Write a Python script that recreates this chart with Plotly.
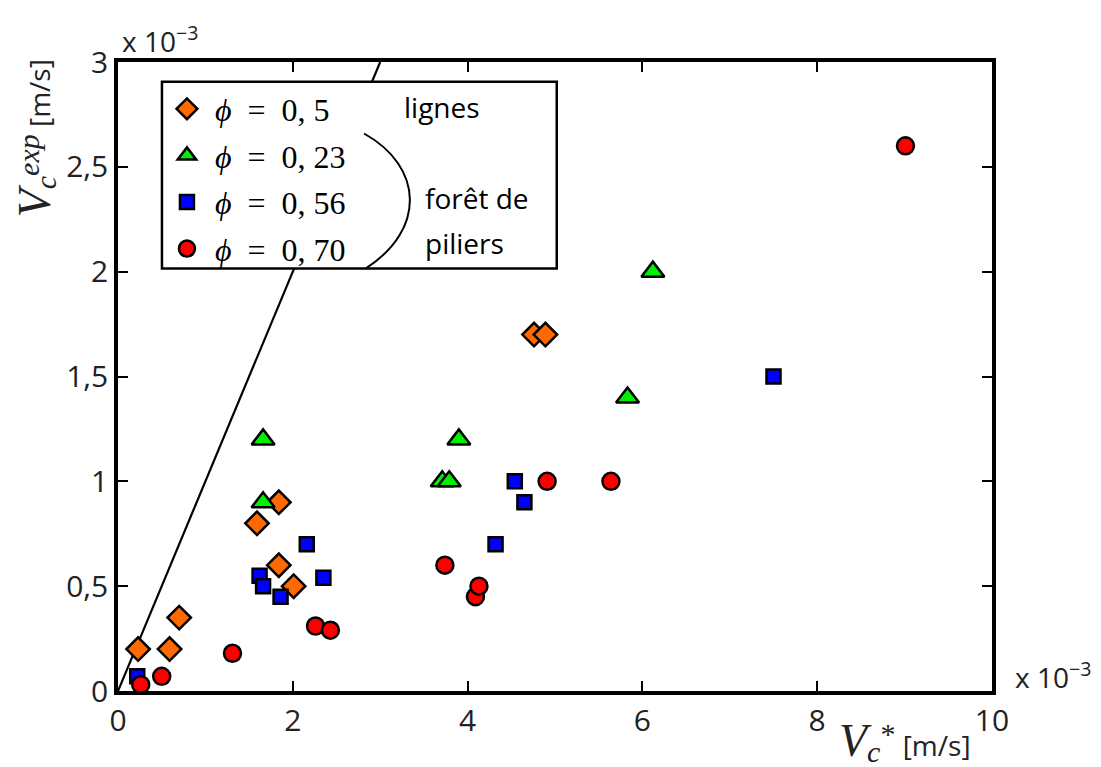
import plotly.graph_objects as go

# values in units of 1e-3 m/s
x_phi05 = [0.23, 0.59, 0.70, 1.59, 1.84, 1.84, 2.01, 4.76, 4.89]
y_phi05 = [0.20, 0.20, 0.35, 0.80, 0.90, 0.60, 0.50, 1.70, 1.70]

x_phi023 = [1.66, 1.66, 3.71, 3.79, 3.90, 5.83, 6.12]
y_phi023 = [1.20, 0.90, 1.00, 1.00, 1.20, 1.40, 2.00]

x_phi056 = [0.22, 1.62, 1.66, 1.86, 2.16, 2.35, 4.32, 4.54, 4.65, 7.50]
y_phi056 = [0.07, 0.55, 0.50, 0.45, 0.70, 0.54, 0.70, 1.00, 0.90, 1.50]

x_phi070 = [0.26, 0.50, 1.31, 2.26, 2.43, 3.74, 4.09, 4.13, 4.91, 5.64, 9.01]
y_phi070 = [0.03, 0.07, 0.18, 0.31, 0.29, 0.60, 0.45, 0.50, 1.00, 1.00, 2.60]

line_x = [0, 3]
line_y = [0, 3]

x_tickvals = [0, 2, 4, 6, 8, 10]
x_ticktext = ["0", "2", "4", "6", "8", "10"]
y_tickvals = [0, 0.5, 1, 1.5, 2, 2.5, 3]
y_ticktext = ["0", "0,5", "1", "1,5", "2", "2,5", "3"]

NB = "&nbsp;"
phis = ["0, 5", "0, 23", "0, 56", "0, 70"]
names = [NB + "<i>ϕ</i>" + NB * 2 + "=" + NB * 2 + p for p in phis]
colors = ["#FF6A00", "#00F000", "#0000FF", "#FF0000"]
symbols = ["diamond", "triangle-up", "square", "circle"]
sizes = [18, 20, 14, 17]
xs = [x_phi05, x_phi023, x_phi056, x_phi070]
ys = [y_phi05, y_phi023, y_phi056, y_phi070]

fig = go.Figure()
fig.add_trace(go.Scatter(x=line_x, y=line_y, mode="lines",
                         line=dict(color="black", width=2.2), showlegend=False))
for i in range(4):
    fig.add_trace(go.Scatter(
        x=xs[i], y=ys[i], mode="markers", name=names[i], legendgroup=str(i),
        cliponaxis=False,
        marker=dict(symbol=symbols[i], size=sizes[i], color=colors[i],
                    line=dict(color="black", width=2.5))))

SANS = "Open Sans"
SERIF = "Liberation Serif"
TXT = "#222222"

ytitle = ("<span style='font-family:Liberation Serif;font-size:46px'><i>V</i></span>"
          "<sub><span style='font-family:Liberation Serif;font-size:30px'><i>c</i></span></sub>"
          "<sup><span style='font-family:Liberation Serif;font-size:30px'><i>exp</i></span></sup>"
          " [m/s]")
xtitle = ("<span style='font-family:Liberation Serif;font-size:46px'><i>V</i></span>"
          "<sub><span style='font-family:Liberation Serif;font-size:30px'><i>c</i></span></sub>"
          "<sup><span style='font-family:Liberation Serif;font-size:30px'>*</span></sup>"
          "&nbsp;[m/s]")

fig.update_layout(
    width=1093, height=759,
    margin=dict(l=110, r=109, t=54, b=76),
    plot_bgcolor="white", paper_bgcolor="white",
    font=dict(family=SANS, size=28, color=TXT),
    showlegend=True,
    legend=dict(x=0.056, y=0.969, xanchor="left", yanchor="top",
                bgcolor="rgba(0,0,0,0)", borderwidth=0,
                tracegroupgap=2,
                font=dict(family=SERIF, size=32, color="black")),
    xaxis=dict(range=[0, 10], tickvals=x_tickvals, ticktext=x_ticktext,
               ticks="inside", ticklen=10, tickwidth=2, tickcolor="black",
               showline=True, linecolor="black", linewidth=3.5, mirror="ticks",
               showgrid=False, zeroline=False,
               tickfont=dict(family=SANS, size=30, color=TXT)),
    yaxis=dict(range=[0, 3], tickvals=y_tickvals, ticktext=y_ticktext,
               ticks="inside", ticklen=10, tickwidth=2, tickcolor="black",
               showline=True, linecolor="black", linewidth=3.5, mirror="ticks",
               showgrid=False, zeroline=False,
               tickfont=dict(family=SANS, size=30, color=TXT)),
    shapes=[
        dict(type="rect", xref="x", yref="y", x0=0.503, x1=5.02, y0=2.015, y1=2.906,
             fillcolor="white", line=dict(color="black", width=2.5), layer="above"),
        dict(type="path", xref="x", yref="y",
             path="M 2.815,2.659 C 3.5,2.5 3.52,2.2 2.84,2.017",
             line=dict(color="black", width=2), layer="above"),
    ],
    annotations=[
        dict(text="lignes", x=3.71, y=2.787, xref="x", yref="y", showarrow=False,
             font=dict(family=SANS, size=28, color="black")),
        dict(text="forêt de", x=3.49, y=2.353, xref="x", yref="y", showarrow=False,
             xanchor="left", font=dict(family=SANS, size=28, color="black")),
        dict(text="piliers", x=3.49, y=2.135, xref="x", yref="y", showarrow=False,
             xanchor="left", font=dict(family=SANS, size=28, color="black")),
        dict(text="x 10<sup>−3</sup>", x=0.002, y=1.0, xref="paper", yref="paper",
             xanchor="left", yanchor="bottom", showarrow=False, yshift=0,
             font=dict(family=SANS, size=28, color=TXT)),
        dict(text="x 10<sup>−3</sup>", x=1.0, y=0.0, xref="paper", yref="paper",
             xanchor="left", yanchor="bottom", showarrow=False, xshift=21, yshift=-7,
             font=dict(family=SANS, size=28, color=TXT)),
        dict(text=ytitle, x=-0.126, y=1.008, xref="paper", yref="paper", textangle=-90,
             showarrow=False, font=dict(family=SANS, size=28, color=TXT)),
        dict(text=xtitle, x=0.978, y=-0.126, xref="paper", yref="paper",
             showarrow=False, font=dict(family=SANS, size=28, color=TXT)),
    ],
)

fig.write_html("out.html")
